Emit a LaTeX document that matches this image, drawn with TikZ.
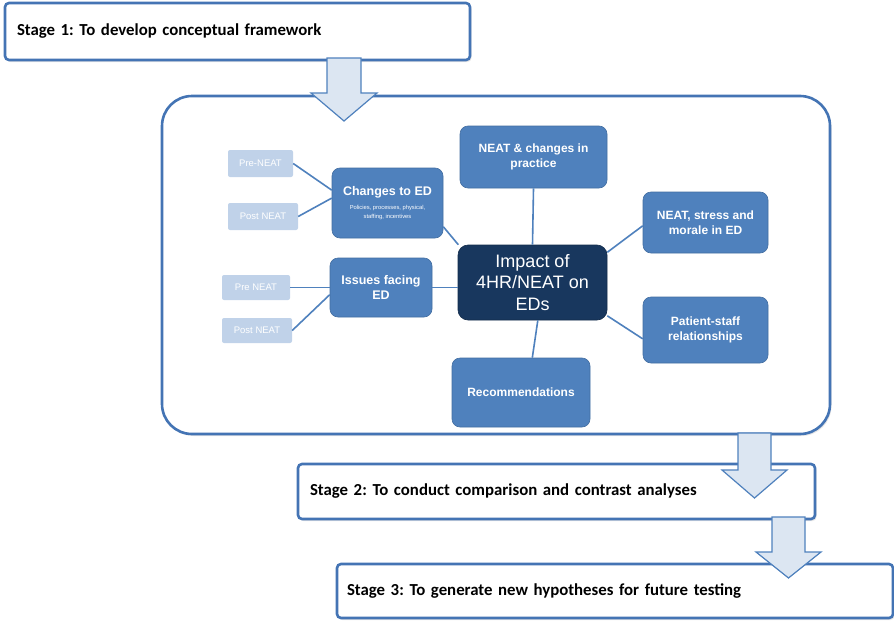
\documentclass[tikz,border=0pt]{standalone}
\usepackage{fontspec}
\setmainfont{Liberation Sans}
\newfontfamily\stagefont{Carlito}
\usetikzlibrary{shadows,calc}

\definecolor{edblue}{RGB}{79,129,189}
\definecolor{edline}{RGB}{68,116,180}
\definecolor{edlight}{RGB}{192,210,233}
\definecolor{ednavy}{RGB}{24,55,94}
\definecolor{edarrow}{RGB}{220,230,242}

\begin{document}
\frenchspacing
\begin{tikzpicture}[x=1pt, y=-1pt,
      stagebox/.style={draw=edline, line width=2.6pt, fill=white, rounded corners=4pt,
                       align=left, inner xsep=12pt, inner ysep=0pt,
                       font=\stagefont\bfseries\fontsize{16.8}{19}\selectfont,
                       drop shadow={shadow xshift=1.5pt, shadow yshift=-2pt, opacity=0.2}},
      frame/.style={draw=edline, line width=2.6pt, fill=white, rounded corners=30pt,
                    inner sep=0pt,
                    drop shadow={shadow xshift=1.5pt, shadow yshift=-2pt, opacity=0.2}},
      topic/.style={draw=edblue!85!black, line width=0.6pt, fill=edblue, rounded corners=8pt,
                    text=white, align=center, inner sep=2pt,
                    font=\bfseries\fontsize{12}{15}\selectfont},
      hub/.style={draw=ednavy!80!black, line width=0.6pt, fill=ednavy, rounded corners=10pt,
                  text=white, align=center, inner sep=2pt,
                  font=\fontsize{18}{21.5}\selectfont},
      sub/.style={fill=edlight, rounded corners=2pt, text=white, inner sep=1pt,
                  font=\fontsize{9.5}{11}\selectfont},
      link/.style={draw=edblue, line width=1.6pt},
      bigarrow/.style={draw=edblue, line width=1.2pt, fill=edarrow, line join=miter}]

    \useasboundingbox (0,0) rectangle (894,621);

    % conceptual framework
    \node[frame, minimum width=668pt, minimum height=338pt] (frame) at (496,265) {};

    \node[hub, minimum width=149pt, minimum height=75pt] (impact) at (532.5,282.5)
      {Impact of\\4HR/NEAT on\\EDs};
    \node[topic, minimum width=147pt, minimum height=62pt] (practice) at (533.5,157)
      {NEAT \& changes in\\practice};
    \node[topic, minimum width=138pt, minimum height=69pt] (recom) at (521,392.5)
      {Recommendations};
    \node[topic, minimum width=125pt, minimum height=61pt] (stress) at (705.5,222.5)
      {NEAT, stress and\\morale in ED};
    \node[topic, minimum width=125pt, minimum height=66pt] (patient) at (705.5,330)
      {Patient-staff\\relationships};
    \node[topic, minimum width=111pt, minimum height=70pt] (changes) at (387.5,203)
      {\fontsize{12.5}{15}\selectfont Changes to ED\\[-1pt]
       \mdseries\fontsize{5.8}{8}\selectfont Policies, processes, physical,\\[-6pt]
       \mdseries\fontsize{5.8}{8}\selectfont staffing, incentives};
    \node[topic, minimum width=102pt, minimum height=59pt] (issues) at (381,287.5)
      {\fontsize{12.5}{15}\selectfont Issues facing\\\fontsize{12.5}{15}\selectfont ED};

    \node[sub, minimum width=65pt, minimum height=27pt] (preA) at (260.5,163.5) {Pre-NEAT};
    \node[sub, minimum width=70pt, minimum height=27pt] (postA) at (263,216.5) {Post NEAT};
    \node[sub, minimum width=68pt, minimum height=25pt] (preB) at (256,287.5) {Pre NEAT};
    \node[sub, minimum width=70pt, minimum height=25pt] (postB) at (257,330.5) {Post NEAT};

    \draw[link] (preA.east) -- (changes.167);
    \draw[link] (postA.east) -- (changes.175);
    \draw[link] (preB.east) -- (preB.east -| issues.west);
    \draw[link] (postB.east) -- (issues.188);
    \draw[link] (changes.337) -- (impact.153);
    \draw[link] (issues.east) -- (issues.east -| impact.west);
    \draw[link] (practice.south) -- (impact.north);
    \draw[link] (impact.22) -- (stress.183);
    \draw[link] (impact.336) -- (patient.188);
    \draw[link] (impact.278) -- (recom.72);

    % stages
    \node[stagebox, text width=441pt, minimum height=57pt] (stage1) at (237.5,31.5)
      {Stage 1: To develop conceptual framework};
    \node[stagebox, text width=493pt, minimum height=55pt] (stage2) at (556.5,491.5)
      {Stage 2: To conduct comparison and contrast analyses};
    \node[stagebox, inner xsep=10pt, text width=536pt, minimum height=54pt] (stage3) at (615,591)
      {Stage 3: To generate new hypotheses for future testing};

    % block arrows between stages
    \draw[bigarrow] (327,58) -- (361,58) -- (361,93) -- (377,93) -- (344,121)
      -- (311,93) -- (327,93) -- cycle;
    \draw[bigarrow] (738,433) -- (771,433) -- (771,470) -- (787,470) -- (754.5,498)
      -- (722,470) -- (738,470) -- cycle;
    \draw[bigarrow] (772,517) -- (805,517) -- (805,552) -- (821,552) -- (788.5,578)
      -- (756,552) -- (772,552) -- cycle;
\end{tikzpicture}
\end{document}
